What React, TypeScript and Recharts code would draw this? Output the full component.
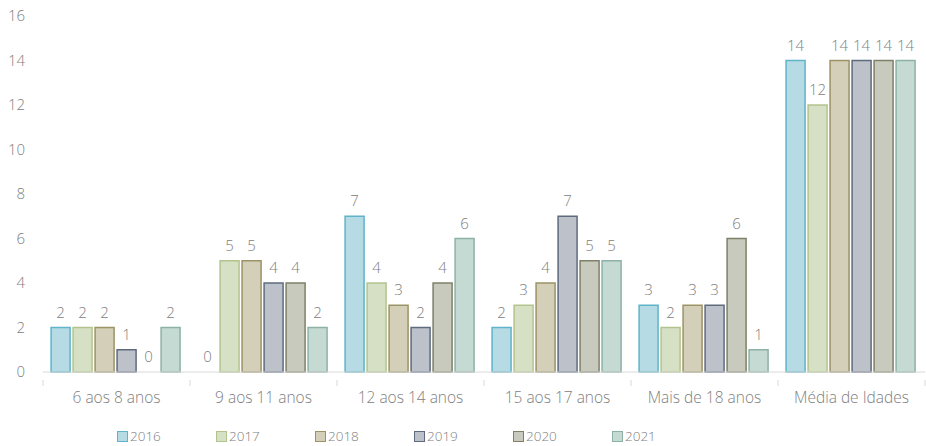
import { Bar, BarChart, Legend, Rectangle, XAxis, YAxis } from "recharts";

const categories = [
  "6 aos 8 anos",
  "9 aos 11 anos",
  "12 aos 14 anos",
  "15 aos 17 anos",
  "Mais de 18 anos",
  "Média de Idades",
];

const years = ["2016", "2017", "2018", "2019", "2020", "2021"];

const v2016 = [2, 0, 7, 2, 3, 14];
const v2017 = [2, 5, 4, 3, 2, 12];
const v2018 = [2, 5, 3, 4, 3, 14];
const v2019 = [1, 4, 2, 7, 3, 14];
const v2020 = [0, 4, 4, 5, 6, 14];
const v2021 = [2, 2, 6, 5, 1, 14];

const yTicks = [0, 2, 4, 6, 8, 10, 12, 14, 16];

const series = [v2016, v2017, v2018, v2019, v2020, v2021];

const fills = ["#b7dbe4", "#d6e0c5", "#d4cfb8", "#bdc1ca", "#c9cabe", "#c6dad4"];
const strokes = ["#5fb4c9", "#b3c38e", "#9c9366", "#5e6b7f", "#7e8167", "#8cb2a8"];

const data = categories.map((name, i) => {
  const row: Record<string, string | number> = { name };
  years.forEach((y, k) => {
    row[y] = series[k][i];
  });
  return row;
});

const font = "'Open Sans', sans-serif";
const grey = "#808080";

function CategoryTick(props: any) {
  const { x, y, payload, index } = props;
  const half = payload?.offset ?? 73.5;
  return (
    <g>
      <line x1={x - half} y1={y} x2={x - half} y2={y + 6} stroke="#d9d9d9" />
      {index === categories.length - 1 ? (
        <line x1={x + half} y1={y} x2={x + half} y2={y + 6} stroke="#d9d9d9" />
      ) : null}
      <text
        x={x}
        y={y + 23}
        textAnchor="middle"
        fill={grey}
        fontSize={15.5}
        fontFamily={font}
        fontWeight={300}
      >
        {payload.value}
      </text>
    </g>
  );
}

// bar plus its value label, so zero-height bars still get their "0"
function LabeledBar(props: any) {
  const { x, y, width, height, value, dataKey, payload } = props;
  const v = payload && dataKey ? payload[dataKey] : value;
  return (
    <g>
      {height > 0 ? <Rectangle {...props} /> : null}
      <text
        x={x + width / 2}
        y={y - 10}
        textAnchor="middle"
        fill={grey}
        stroke="none"
        fontSize={15}
        fontFamily={font}
        fontWeight={300}
      >
        {v}
      </text>
    </g>
  );
}

function YearLegend() {
  return (
    <div style={{ display: "flex", paddingLeft: 117, fontFamily: font, height: 20 }}>
      {years.map((y, k) => (
        <div key={y} style={{ width: 99, display: "flex", alignItems: "center" }}>
          <span
            style={{
              display: "inline-block",
              width: 9,
              height: 9,
              background: fills[k],
              border: `1.5px solid ${strokes[k]}`,
              marginRight: 2,
            }}
          />
          <span style={{ fontSize: 13.5, color: grey, fontWeight: 300 }}>{y}</span>
        </div>
      ))}
    </div>
  );
}

export default function App() {
  return (
    <div style={{ position: "absolute", top: 0, left: 0, width: 926, height: 446, background: "#fff" }}>
      <BarChart
        width={926}
        height={446}
        data={data}
        margin={{ top: 16, right: 1, left: 0, bottom: 14 }}
        barCategoryGap="5.5%"
        barGap={3}
      >
        <XAxis
          dataKey="name"
          axisLine={{ stroke: "#d9d9d9" }}
          tickLine={false}
          height={40}
          tick={<CategoryTick />}
          interval={0}
        />
        <YAxis
          domain={[0, 16]}
          ticks={yTicks}
          axisLine={false}
          tickLine={false}
          tickSize={0}
          tickMargin={18}
          width={43}
          tick={{ fill: grey, fontSize: 15, fontFamily: font, fontWeight: 300 }}
        />
        <Legend
          verticalAlign="bottom"
          content={<YearLegend />}
          wrapperStyle={{ top: 426, bottom: "auto", left: 0, width: 926, height: 20 }}
        />
        {years.map((y, k) => (
          <Bar
            key={y}
            dataKey={y}
            fill={fills[k]}
            stroke={strokes[k]}
            strokeWidth={1.5}
            shape={<LabeledBar />}
            isAnimationActive={false}
          />
        ))}
      </BarChart>
    </div>
  );
}
